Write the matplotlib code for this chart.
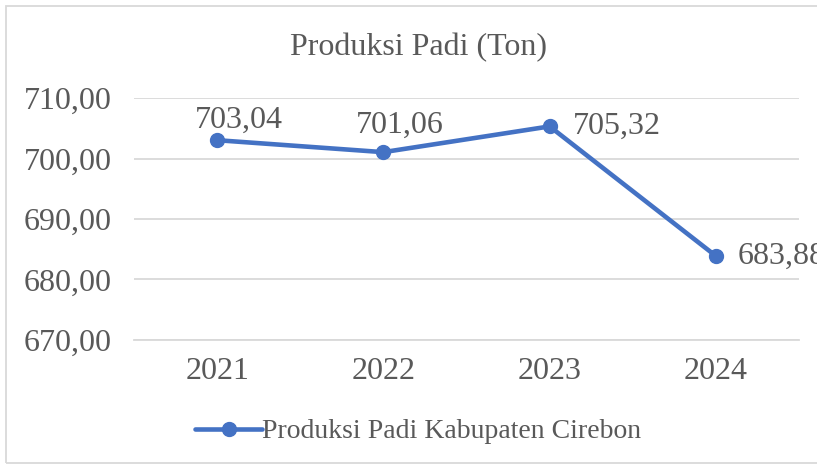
import matplotlib.pyplot as plt
from matplotlib.ticker import FuncFormatter
from matplotlib.patches import Rectangle

years = ['2021', '2022', '2023', '2024']
produksi = [703.04, 701.06, 705.32, 683.88]
label_offsets = [(16, 14), (12, 19), (17, 0), (16, 0)]

plt.rcParams['font.family'] = ['Liberation Serif', 'DejaVu Serif']
text_color = '#595959'
line_color = '#4472C4'

fig = plt.figure(figsize=(8.17, 4.65), dpi=100)
ax = fig.add_axes([0.164, 0.269, 0.814, 0.520])

x = list(range(len(years)))
ax.plot(x, produksi, color=line_color, linewidth=3.3, marker='o', markersize=10,
        label='Produksi Padi Kabupaten Cirebon', solid_capstyle='round', clip_on=False, zorder=3)

for i, v in enumerate(produksi):
    dx, dy = label_offsets[i]
    lbl = f'{v:.2f}'.replace('.', ',')
    ax.annotate(lbl, (x[i], v), xytext=(dx, dy), textcoords='offset points',
                ha='center' if dy else 'left', va='center', fontsize=23, color=text_color,
                annotation_clip=False)

ax.set_ylim(670, 710)
ax.set_yticks([670, 680, 690, 700, 710])
ax.yaxis.set_major_formatter(FuncFormatter(lambda v, p: f'{v:.2f}'.replace('.', ',')))
ax.set_xlim(-0.5, 3.5)
ax.set_xticks(x)
ax.set_xticklabels(years)
ax.grid(axis='y', color='#D9D9D9', linewidth=1.3)
ax.set_axisbelow(True)
for s in ['top', 'right', 'left']:
    ax.spines[s].set_visible(False)
ax.spines['bottom'].set_color('#D9D9D9')
ax.spines['bottom'].set_linewidth(1.3)
ax.tick_params(axis='both', length=0, labelsize=23, colors=text_color)
ax.tick_params(axis='y', pad=16)
ax.tick_params(axis='x', pad=12)

fig.text(0.512, 0.898, 'Produksi Padi (Ton)', ha='center', va='center', fontsize=23, color=text_color)

leg = fig.legend(loc='center', bbox_to_anchor=(0.512, 0.072), frameon=False, fontsize=20,
                 handlelength=2.4, handletextpad=0.0, labelcolor=text_color)

fig.patches.append(Rectangle((6 / 817, 0.004), 1.0, 1 - 6 / 465 - 0.004, transform=fig.transFigure,
                             fill=False, edgecolor='#D9D9D9', linewidth=1.3))

fig.savefig('out.png', dpi=100)
